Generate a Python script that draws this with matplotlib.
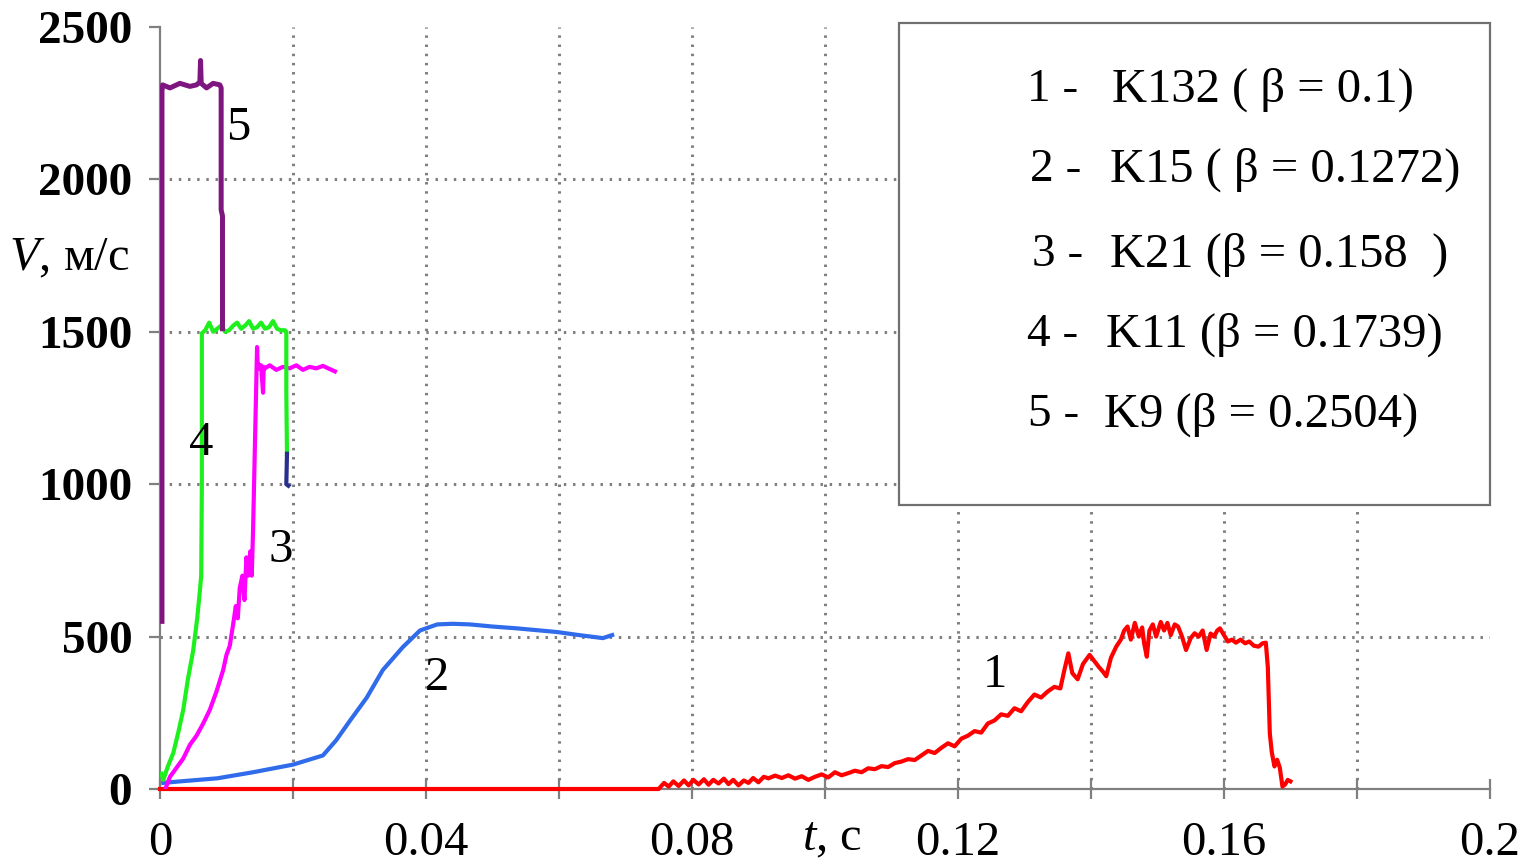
import matplotlib
matplotlib.use('Agg')
import matplotlib.pyplot as plt
from matplotlib.patches import Rectangle

# curve 5 - K9
t5 = [0.0003, 0.0003, 0.0003, 0.0004, 0.0015, 0.0030, 0.0045, 0.0055, 0.0060, 0.0061,
      0.0062, 0.0070, 0.0080, 0.0090, 0.0092, 0.0092, 0.0094, 0.0094]
v5 = [550, 1600, 2290, 2310, 2300, 2315, 2305, 2310, 2320, 2390,
      2315, 2300, 2315, 2310, 2300, 1900, 1880, 1510]

# curve 4 - K11
t4 = [0.0002, 0.0005, 0.0012, 0.0020, 0.0028, 0.0035, 0.0042, 0.0050, 0.0056, 0.0060,
      0.0062, 0.0063, 0.0063, 0.0068, 0.0074, 0.0080, 0.0086, 0.0092, 0.0098, 0.0104,
      0.0110, 0.0116, 0.0122, 0.0128, 0.0134, 0.0140, 0.0146, 0.0152, 0.0158, 0.0164,
      0.0170, 0.0176, 0.0182, 0.0188, 0.0190, 0.0190, 0.0191]
v4 = [50, 30, 75, 118, 190, 260, 360, 455, 560, 650,
      700, 1000, 1495, 1505, 1530, 1500, 1510, 1520, 1500, 1505,
      1520, 1530, 1510, 1520, 1535, 1510, 1515, 1530, 1510, 1515,
      1535, 1510, 1505, 1505, 1500, 1300, 1100]
t4_tail = [0.0191, 0.0190, 0.0193]
v4_tail = [1100, 1000, 995]

# curve 3 - K21
t3 = [0.0008, 0.0015, 0.0025, 0.0035, 0.0045, 0.0055, 0.0065, 0.0075, 0.0085, 0.0095,
      0.0100, 0.0105, 0.0110, 0.0114, 0.0117, 0.0120, 0.0124, 0.0127, 0.0130, 0.0133,
      0.0136, 0.0138, 0.0140, 0.0142, 0.0144, 0.0146, 0.0147, 0.0148, 0.0150, 0.0152,
      0.0155, 0.0156, 0.0158, 0.0165, 0.0175, 0.0185, 0.0195, 0.0205, 0.0215, 0.0225,
      0.0235, 0.0245, 0.0255, 0.0263]
v3 = [0, 40, 70, 100, 145, 175, 215, 260, 320, 390,
      440, 470, 540, 600, 560, 660, 700, 620, 760, 700,
      780, 700, 850, 1050, 1250, 1450, 1380, 1395, 1380, 1390,
      1300, 1385, 1380, 1390, 1375, 1385, 1380, 1390, 1375, 1385,
      1380, 1388, 1378, 1370]

# curve 2 - K15
t2 = [0.0005, 0.003, 0.0086, 0.014, 0.020, 0.0245, 0.0265, 0.0286, 0.0311, 0.0335,
      0.0365, 0.0391, 0.0417, 0.0440, 0.0466, 0.0500, 0.0537, 0.0597, 0.0630, 0.0666,
      0.068]
v2 = [20, 25, 35, 55, 80, 110, 160, 225, 300, 390,
      465, 520, 540, 542, 540, 533, 527, 515, 505, 495,
      505]

# curve 1 - K132
red_points = [
    (0, 0), (0.075, 0), (0.0758, 20), (0.0765, 8), (0.0772, 25), (0.078, 10),
    (0.0788, 28), (0.0795, 12), (0.0802, 30), (0.081, 15), (0.0818, 32), (0.0825, 14),
    (0.0832, 30), (0.084, 18), (0.0848, 34), (0.0855, 16), (0.0862, 30), (0.087, 12),
    (0.0878, 28), (0.0885, 20), (0.0892, 36), (0.090, 22), (0.0908, 40), (0.0915, 35),
    (0.0925, 44), (0.0935, 36), (0.0945, 45), (0.0955, 34), (0.0965, 42), (0.0975, 30),
    (0.0985, 40), (0.0995, 48), (0.1005, 38), (0.1015, 55), (0.1025, 45), (0.1035, 52),
    (0.1045, 60), (0.1055, 55), (0.1065, 68), (0.1075, 65), (0.1085, 75), (0.1095, 72),
    (0.1105, 85), (0.1115, 90), (0.1125, 98), (0.1135, 95), (0.1145, 110), (0.1155, 125),
    (0.1165, 118), (0.1175, 135), (0.1185, 150), (0.1195, 140), (0.1205, 165), (0.1215, 175),
    (0.1225, 190), (0.1235, 185), (0.1245, 215), (0.1255, 225), (0.1265, 245), (0.1275, 240),
    (0.1285, 265), (0.1295, 255), (0.1305, 285), (0.1315, 310), (0.1325, 300), (0.1335, 320),
    (0.1345, 335), (0.1354, 330), (0.1360, 390), (0.1366, 445), (0.1372, 380), (0.1380, 360),
    (0.1388, 410), (0.1398, 440), (0.1405, 420), (0.1412, 400), (0.1418, 385), (0.1423, 370),
    (0.1430, 430), (0.1438, 467), (0.1445, 490), (0.1450, 520), (0.1455, 533), (0.1460, 490),
    (0.1466, 545), (0.1472, 500), (0.1477, 530), (0.1480, 478), (0.1484, 434), (0.1488, 520),
    (0.1493, 540), (0.1498, 500), (0.1505, 548), (0.1510, 520), (0.1515, 545), (0.1520, 505),
    (0.1526, 540), (0.1531, 533), (0.1537, 500), (0.1543, 456), (0.1550, 495), (0.1556, 511),
    (0.1562, 500), (0.1568, 520), (0.1574, 456), (0.1580, 510), (0.1585, 500), (0.1590, 520),
    (0.1594, 527), (0.1600, 505), (0.1606, 484), (0.1612, 490), (0.1618, 480), (0.1625, 490),
    (0.1632, 478), (0.1638, 484), (0.1645, 470), (0.1652, 467), (0.1658, 478), (0.1663, 480),
    (0.1666, 400), (0.1669, 182), (0.1672, 120), (0.1676, 74), (0.1680, 96), (0.1684, 70),
    (0.1688, 8), (0.1692, 15), (0.1696, 30), (0.1700, 25),
]
t1 = [p[0] for p in red_points]
v1 = [p[1] for p in red_points]

# curve number labels (t, V)
curve_nums = ['5', '4', '3', '2', '1']
num_t = [0.0118, 0.0062, 0.0182, 0.0417, 0.1255]
num_v = [2168, 1135, 784, 364, 374]

legend_nums = ['1 -', '2 -', '3 -', '4 -', '5 -']
legend_labels = ['K132 ( β = 0.1)', 'K15 ( β = 0.1272)', 'K21 (β = 0.158  )',
                 'K11 (β = 0.1739)', 'K9 (β = 0.2504)']

x_major = [0, 0.04, 0.08, 0.12, 0.16, 0.2]
x_minor = [0.02, 0.06, 0.10, 0.14, 0.18]
y_ticks = [0, 500, 1000, 1500, 2000, 2500]

plt.rcParams['font.family'] = ['Liberation Serif', 'DejaVu Serif']
plt.rcParams['mathtext.fontset'] = 'custom'
plt.rcParams['mathtext.rm'] = 'Liberation Serif'
plt.rcParams['mathtext.it'] = 'Liberation Serif:italic'

fig = plt.figure(figsize=(15.25, 8.64), dpi=100)
ax = fig.add_axes([0.1049, 0.0868, 0.8721, 0.882])
ax.set_xlim(0, 0.2)
ax.set_ylim(0, 2500)

grid_kw = dict(color='#808080', linewidth=2.2, linestyle=(0, (0.8, 2.2)), zorder=1)
for gx in [0.02, 0.04, 0.06, 0.08, 0.10, 0.12, 0.14, 0.16, 0.18]:
    ax.axvline(gx, **grid_kw)
for gy in [500, 1000, 1500, 2000]:
    ax.axhline(gy, **grid_kw)

lw = 3.0
ax.plot(t1, v1, color='#FF0000', linewidth=lw, zorder=3, clip_on=False)
ax.plot(t2, v2, color='#2F6BEA', linewidth=lw, zorder=3)
ax.plot(t3, v3, color='#FF00FF', linewidth=lw, zorder=3)
ax.plot(t4, v4, color='#1EF01E', linewidth=lw, zorder=3)
ax.plot(t4_tail, v4_tail, color='#2A2E8C', linewidth=lw, zorder=3)
ax.plot(t5, v5, color='#7E1680', linewidth=lw + 0.6, zorder=3)

for s, tx, vy in zip(curve_nums, num_t, num_v):
    ax.text(tx, vy, s, fontsize=35, ha='center', va='center', zorder=4)

for side in ['top', 'right']:
    ax.spines[side].set_visible(False)
for side in ['left', 'bottom']:
    ax.spines[side].set_color('#808080')
    ax.spines[side].set_linewidth(1.6)

ax.set_xticks(x_major)
ax.set_xticklabels(['0', '0.04', '0.08', '0.12', '0.16', '0.2'])
ax.set_xticks(x_minor, minor=True)
ax.set_yticks(y_ticks)
ax.tick_params(axis='x', which='both', direction='inout', length=14, width=1.6,
               color='#808080', labelsize=35, pad=16)
ax.tick_params(axis='y', direction='out', length=8, width=1.6, color='#808080',
               labelsize=34, pad=12)
for lab in ax.get_yticklabels():
    lab.set_fontweight('bold')

# legend box
ax.add_patch(Rectangle((0.556, 0.3727), 0.444, 0.632, transform=ax.transAxes,
                       facecolor='white', edgecolor='#707070', linewidth=1.6,
                       zorder=5, clip_on=False))
leg_y = [0.917, 0.812, 0.701, 0.596, 0.491]
num_x = [0.652, 0.654, 0.656, 0.652, 0.653]
lab_x = [0.716, 0.714, 0.714, 0.711, 0.710]
for i in range(5):
    ax.text(num_x[i], leg_y[i], legend_nums[i], transform=ax.transAxes, fontsize=34,
            ha='left', va='center', zorder=6)
    ax.text(lab_x[i], leg_y[i], legend_labels[i], transform=ax.transAxes, fontsize=35,
            ha='left', va='center', zorder=6)

fig.text(0.006, 0.701, '$V$, м/с', fontsize=35, ha='left', va='center')
fig.text(0.526, 0.004, '$t$, c', fontsize=35, ha='left', va='bottom')

plt.savefig('out.png', dpi=100)
